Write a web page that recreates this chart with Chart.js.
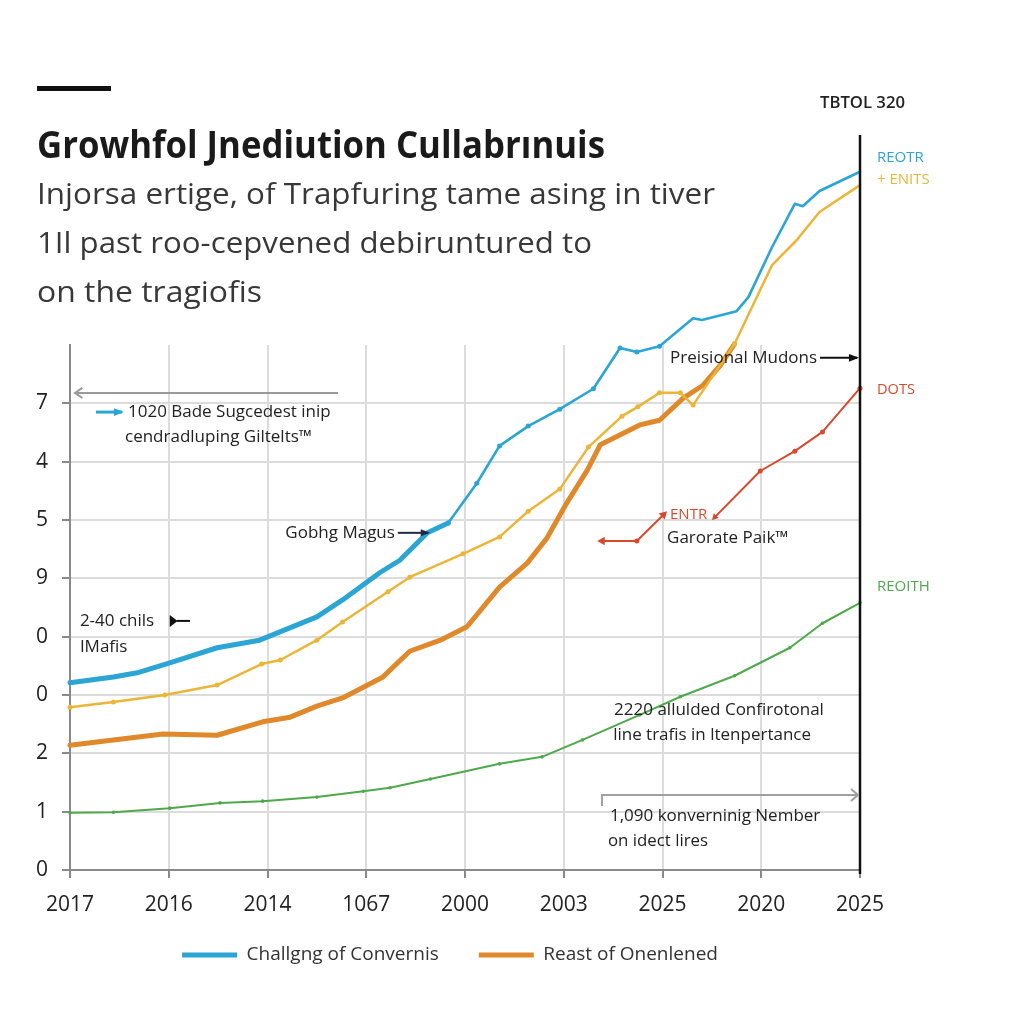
<!DOCTYPE html>
<html><head><meta charset="utf-8">
<script src="https://cdn.jsdelivr.net/npm/chart.js@4.4.1/dist/chart.umd.min.js"></script>
<style>
html,body{margin:0;padding:0;background:#fff;}
#wrap{position:relative;width:1024px;height:1024px;overflow:hidden;background:#fff;font-family:"Open Sans",sans-serif;}
#c{position:absolute;left:0;top:0;}
.t{position:absolute;white-space:nowrap;transform-origin:0 0;line-height:1;}
</style></head><body>
<div id="wrap">
<canvas id="c" width="1024" height="1024"></canvas>
<div style="position:absolute;left:37px;top:86px;width:74px;height:5px;background:#111"></div>
<div class="t fit" data-w="85" style="left:820px;top:93px;font-size:17px;font-weight:600;color:#222">TBTOL 320</div>
<div class="t fit" data-w="568" style="left:37px;top:124px;font-size:38px;font-weight:700;color:#1a1a1a">Growhfol Jnediution Cullabrınuis</div>
<div class="t fit" data-w="678" style="left:37px;top:178px;font-size:29px;font-weight:400;color:#383838">Injorsa ertige, of Trapfuring tame asing in tiver</div>
<div class="t fit" data-w="555" style="left:37px;top:227px;font-size:29px;font-weight:400;color:#383838">1Il past roo-cepvened debiruntured to</div>
<div class="t fit" data-w="225" style="left:37px;top:276px;font-size:29px;font-weight:400;color:#383838">on the tragiofis</div>
</div>
<script>
// ---- data ----
const xLabels = ["2017","2016","2014","1067","2000","2003","2025","2020","2025"];
const yLabels = ["0","1","2","0","0","9","5","4","7"];
const seriesNames = ["Challgng of Convernis","+ ENITS","Reast of Onenlened","DOTS","REOITH"];

const blueSeries = [[0,3.21],[0.44,3.31],[0.68,3.38],[1.01,3.55],[1.49,3.81],[1.92,3.94],[2.50,4.34],[2.76,4.63],[3.14,5.10],[3.34,5.31],[3.62,5.78],[3.83,5.95],[4.12,6.63],[4.35,7.27],[4.64,7.61],[4.96,7.90],[5.30,8.25],[5.57,8.95],[5.74,8.88],[5.97,8.98],[6.31,9.46],[6.40,9.43],[6.75,9.58],[6.87,9.82],[7.11,10.68],[7.34,11.42],[7.42,11.38],[7.59,11.64],[8.0,11.97]];
const yellowSeries = [[0,2.79],[0.44,2.88],[0.96,3.00],[1.49,3.17],[1.94,3.53],[2.13,3.60],[2.50,3.94],[2.76,4.25],[3.22,4.77],[3.44,5.02],[3.98,5.42],[4.35,5.71],[4.64,6.15],[4.96,6.53],[5.25,7.25],[5.59,7.78],[5.75,7.94],[5.97,8.18],[6.18,8.18],[6.31,7.97],[6.73,9.02],[7.11,10.37],[7.36,10.80],[7.59,11.28],[8.0,11.74]];
const orangeSeries = [[0,2.14],[0.44,2.23],[0.94,2.33],[1.49,2.31],[1.95,2.54],[2.23,2.62],[2.50,2.81],[2.76,2.95],[3.17,3.31],[3.44,3.75],[3.75,3.94],[4.02,4.17],[4.35,4.85],[4.63,5.26],[4.83,5.69],[5.03,6.29],[5.24,6.86],[5.37,7.29],[5.77,7.63],[5.97,7.71],[6.21,8.09],[6.41,8.31],[6.58,8.64],[6.73,9.02]];
const redSeries = [[5.39,5.64],[5.74,5.64],[6.01,6.09],[6.27,null],[6.53,6.05],[6.99,6.84],[7.34,7.18],[7.62,7.51],[8.0,8.26]];
const greenSeries = [[0,0.98],[0.44,0.99],[1.01,1.06],[1.52,1.15],[1.95,1.18],[2.50,1.25],[2.97,1.35],[3.24,1.41],[3.65,1.56],[4.35,1.82],[4.78,1.94],[5.19,2.23],[5.77,2.66],[6.18,2.97],[6.73,3.33],[7.29,3.81],[7.62,4.23],[8.0,4.58]];

// ---- fit HTML headings ----
document.querySelectorAll('.fit').forEach(el=>{
  const w = el.getBoundingClientRect().width;
  el.style.transform = 'scaleX(' + (parseFloat(el.dataset.w)/w) + ')';
});

const toPts = a => a.map(p => ({x:p[0], y:p[1]}));
const C = {blue:'#2ba5d3', yellow:'#ebb537', orange:'#e0892b', red:'#d8492c', green:'#4ea94b', text:'#222'};
const FONT = '"Open Sans", sans-serif';

function arrow(ctx, x1, y1, x2, y2, color, w, head, open){
  ctx.save();
  ctx.strokeStyle = color; ctx.fillStyle = color; ctx.lineWidth = w;
  ctx.beginPath(); ctx.moveTo(x1,y1); ctx.lineTo(x2,y2); ctx.stroke();
  const a = Math.atan2(y2-y1, x2-x1);
  ctx.beginPath();
  if (open) {
    ctx.moveTo(x2 - Math.cos(a-0.6)*head, y2 - Math.sin(a-0.6)*head);
    ctx.lineTo(x2, y2);
    ctx.lineTo(x2 - Math.cos(a+0.6)*head, y2 - Math.sin(a+0.6)*head);
    ctx.stroke();
  } else {
    ctx.moveTo(x2 + Math.cos(a)*2, y2 + Math.sin(a)*2);
    ctx.lineTo(x2 - Math.cos(a-0.45)*head, y2 - Math.sin(a-0.45)*head);
    ctx.lineTo(x2 - Math.cos(a+0.45)*head, y2 - Math.sin(a+0.45)*head);
    ctx.closePath(); ctx.fill();
  }
  ctx.restore();
}

const legendShift = {
  id:'legendShift',
  afterLayout(chart){
    const lg = chart.legend;
    if (!lg) return;
    lg.left += 40;
    lg.top -= 14.5; lg.bottom -= 14.5;
  }
};

const annot = {
  id:'annot',
  afterDraw(chart){
    const ctx = chart.ctx, xs = chart.scales.x, ys = chart.scales.y;
    const X = v => xs.getPixelForValue(v), Y = v => ys.getPixelForValue(v);
    const txt = (s, x, y, w, color, size, align) => {
      ctx.save();
      ctx.font = (size||17) + 'px ' + FONT;
      ctx.fillStyle = color || C.text;
      ctx.textBaseline = 'middle';
      ctx.textAlign = align || 'left';
      ctx.fillText(s, X(x), Y(y), w);
      ctx.restore();
    };
    // right black boundary line
    ctx.save();
    ctx.strokeStyle = '#111'; ctx.lineWidth = 2.5;
    ctx.beginPath(); ctx.moveTo(X(8), Y(12.6)); ctx.lineTo(X(8), Y(0)+4); ctx.stroke();
    ctx.restore();

    // gray arrow at top-left
    arrow(ctx, X(2.714), Y(8.178), X(0.05), Y(8.178), '#9a9a9a', 2, 9, true);
    // cyan arrow + text
    arrow(ctx, X(0.263), Y(7.85), X(0.527), Y(7.85), C.blue, 3, 9);
    txt('1020 Bade Sugcedest inip', 0.587, 7.85, 210);
    txt('cendradluping Giltelts™', 0.557, 7.42, 202);
    // Preisional Mudons
    txt('Preisional Mudons', 6.076, 8.78, 150);
    arrow(ctx, X(7.595), Y(8.78), X(7.97), Y(8.78), '#111', 2, 9);
    // Gobhg Magus
    txt('Gobhg Magus', 3.29, 5.78, 113, C.text, 17, 'right');
    arrow(ctx, X(3.32), Y(5.78), X(3.625), Y(5.78), '#1d2b44', 2, 8);
    // 2-40 chils
    txt('2-40 chils', 0.10, 4.27, 82);
    ctx.save();
    ctx.fillStyle = '#111'; ctx.strokeStyle = '#111'; ctx.lineWidth = 2;
    ctx.beginPath(); ctx.moveTo(X(1.01), Y(4.27)-6); ctx.lineTo(X(1.09), Y(4.27)); ctx.lineTo(X(1.01), Y(4.27)+6); ctx.closePath(); ctx.fill();
    ctx.beginPath(); ctx.moveTo(X(1.08), Y(4.27)); ctx.lineTo(X(1.215), Y(4.27)); ctx.stroke();
    ctx.restore();
    txt('IMafis', 0.10, 3.82, 50);
    // ENTR / Garorate
    txt('ENTR', 6.076, 6.09, 40, C.red, 15);
    txt('Garorate Paik™', 6.046, 5.69, 125);
    // 2220 ...
    txt('2220 allulded Confirotonal', 5.51, 2.74, 213);
    txt('line trafis in ltenpertance', 5.50, 2.31, 209);
    // bracket
    ctx.save();
    ctx.strokeStyle = '#a0a0a0'; ctx.lineWidth = 2;
    ctx.beginPath();
    ctx.moveTo(X(5.387), Y(1.097)); ctx.lineTo(X(5.387), Y(1.286)); ctx.lineTo(X(7.98), Y(1.286));
    ctx.stroke();
    ctx.beginPath();
    ctx.moveTo(X(7.98)-7, Y(1.286)-6); ctx.lineTo(X(7.98), Y(1.286)); ctx.lineTo(X(7.98)-7, Y(1.286)+6);
    ctx.stroke();
    ctx.restore();
    txt('1,090 konverninig Nember', 5.468, 0.926, 214);
    txt('on idect lires', 5.448, 0.497, 100);
    // right-side series labels
    txt('REOTR', 8.172, 12.21, 50, C.blue, 15);
    txt('+ ENITS', 8.172, 11.83, 57, C.yellow, 15);
    txt('DOTS', 8.172, 8.23, 38, C.red, 15);
    txt('REOITH', 8.172, 4.85, 55, C.green, 15);
  }
};

const redStyles = ['triangle','circle','triangle','circle','triangle','circle','circle','circle','circle'];
const redRot = [-90,0,45,0,225,0,0,0,0];
const redRad = [5,2.5,5,0,4,2.5,2.5,2.5,2.5];

new Chart(document.getElementById('c'), {
  type:'line',
  data:{
    datasets:[
      {label:seriesNames[0], data:toPts(blueSeries), borderColor:C.blue, backgroundColor:C.blue, borderWidth:3,
       segment:{borderWidth: c => c.p0.parsed.x < 3.7 ? 5 : 2.6},
       pointRadius: c => (c.parsed && c.parsed.x > 3.7) ? 2.5 : 0, pointBackgroundColor:C.blue, pointBorderWidth:0},
      {label:seriesNames[1], data:toPts(yellowSeries), borderColor:C.yellow, backgroundColor:C.yellow, borderWidth:2.5,
       pointRadius:2.5, pointBackgroundColor:C.yellow, pointBorderWidth:0},
      {label:seriesNames[2], data:toPts(orangeSeries), borderColor:C.orange, backgroundColor:C.orange, borderWidth:5,
       pointRadius:0},
      {label:seriesNames[3], data:toPts(redSeries), borderColor:C.red, backgroundColor:C.red, borderWidth:2,
       spanGaps:false, pointStyle:redStyles, rotation:redRot, pointRadius:redRad, pointBackgroundColor:C.red, pointBorderWidth:0},
      {label:seriesNames[4], data:toPts(greenSeries), borderColor:C.green, backgroundColor:C.green, borderWidth:2,
       pointRadius:1.8, pointBackgroundColor:C.green, pointBorderWidth:0}
    ]
  },
  options:{
    responsive:false, animation:false, devicePixelRatio:1,
    clip:false,
    datasets:{line:{clip:false, tension:0, borderJoinStyle:'round', borderCapStyle:'round'}},
    layout:{padding:{left:0, right:164, top:345, bottom:35}},
    scales:{
      x:{type:'linear', min:0, max:8,
         afterFit: s => { s.height = 50; },
         ticks:{stepSize:1, autoSkip:false, maxRotation:0, padding:14, color:'#222', font:{family:FONT, size:21},
                callback: v => xLabels[v] ?? ''},
         grid:{color: c => (c.tick && (c.tick.value===0 || c.tick.value===8)) ? 'rgba(0,0,0,0)' : '#dcdcdc', lineWidth:2, tickLength:8, tickColor:'#8a8a8a'},
         border:{color:'#8a8a8a', width:2}},
      y:{type:'linear', min:0, max:9,
         afterFit: s => { s.width = 70; },
         afterBuildTicks: s => { s.ticks = s.ticks.filter(t => t.value <= 8); },
         ticks:{stepSize:1, padding:14, color:'#222', font:{family:FONT, size:21},
                callback: v => yLabels[v] ?? ''},
         grid:{color: c => (c.tick && c.tick.value===0) ? 'rgba(0,0,0,0)' : '#dcdcdc', lineWidth:2, tickLength:8, tickColor:'#8a8a8a'},
         border:{color:'#8a8a8a', width:2}}
    },
    plugins:{
      tooltip:{enabled:false},
      legend:{position:'bottom', align:'center',
        labels:{boxWidth:55, boxHeight:5, padding:40, color:'#333', font:{family:FONT, size:19},
          generateLabels: chart => Chart.defaults.plugins.legend.labels.generateLabels(chart)
             .filter(i => i.datasetIndex === 0 || i.datasetIndex === 2)
             .map(i => Object.assign(i, {fillStyle:i.strokeStyle, lineWidth:0}))}}
    }
  },
  plugins:[legendShift, annot]
});
</script>
</body></html>
